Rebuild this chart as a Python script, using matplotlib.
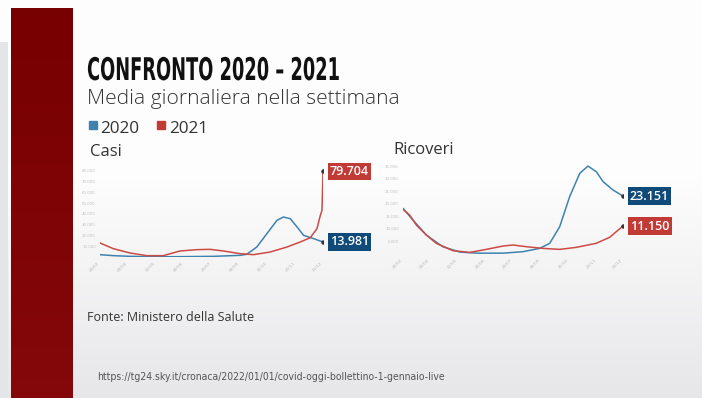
import numpy as np
import matplotlib
matplotlib.use("Agg")
import matplotlib.pyplot as plt
import matplotlib.patheffects as pe
from matplotlib.patches import Rectangle
from matplotlib.transforms import Affine2D

# giorni dall'inizio della finestra (0..310) e valori
casi_2021_x = [0, 18.6, 41.8, 65, 88, 111, 134.6, 153, 171.7, 195, 213.5, 236.7, 260, 278.4, 292.4, 301.6, 306.3, 308.6, 310]
casi_2021 = [13020, 7750, 3720, 1240, 1240, 5580, 6820, 7130, 5580, 3100, 2170, 4650, 9300, 13950, 17980, 26350, 38750, 43400, 79704]

casi_2020_x = [0, 18.6, 41.8, 65, 111, 157.8, 195, 204, 218, 232, 246, 255, 264.5, 274, 283, 297, 310]
casi_2020 = [2170, 1240, 620, 300, 300, 620, 1550, 2480, 9300, 21700, 34100, 37200, 35650, 27900, 20150, 17050, 13981]

ric_2021_x = [0, 9.4, 18.8, 32.9, 47, 70.5, 94, 117.4, 141, 155, 173.8, 197, 220.8, 244, 272, 291, 310]
ric_2021 = [17810, 15540, 11540, 7545, 4210, 1280, 600, 1810, 3150, 3550, 2880, 2210, 1810, 2610, 4210, 6610, 11150]

ric_2020_x = [0, 14, 32.9, 56, 80, 103, 141, 169, 192.6, 206.7, 220.8, 234.8, 249, 260.7, 272.4, 282, 296, 310]
ric_2020 = [18210, 13540, 7545, 2880, 750, 300, 300, 880, 2210, 4210, 10880, 22870, 32200, 35140, 32870, 28870, 25540, 23151]

tick_days = [0, 39, 78, 117, 156, 195, 234, 273, 310]
tick_labels = ["24/02", "03/04", "12/05", "20/06", "29/07", "06/09", "15/10", "23/11", "31/12"]

BLU = "#3f82b0"
ROSSO = "#cc4a44"
BOX_BLU = "#0f4a78"
BOX_ROSSO = "#c23a35"

W, H = 702, 398
fig = plt.figure(figsize=(W / 100, H / 100), dpi=100)


def fx(x):
    return x / W


def fy(y):
    return 1 - y / H


class Stretta(pe.AbstractPathEffect):
    # comprime il testo in orizzontale attorno a x0 (pixel)
    def __init__(self, x0, sx):
        super().__init__()
        self.x0 = x0
        self.sx = sx

    def draw_path(self, renderer, gc, tpath, affine, rgbFace=None):
        t = affine + Affine2D().translate(-self.x0, 0).scale(self.sx, 1).translate(self.x0, 0)
        renderer.draw_path(gc, tpath, t, rgbFace)


# sfondo
bg = fig.add_axes([0, 0, 1, 1], zorder=-10)
grad = np.concatenate([np.ones(170), np.linspace(1, 0, 228)])[:, None]
col_top = np.array([0.995, 0.995, 0.995])
col_bot = np.array([0.905, 0.905, 0.915])
img = col_bot + (col_top - col_bot) * grad[:, :, None]
img = np.repeat(img, 2, axis=1)
bg.imshow(img, aspect="auto", extent=[0, 1, 0, 1])
bg.set_xlim(0, 1)
bg.set_ylim(0, 1)
bg.axis("off")
bg.add_patch(Rectangle((0, 0), fx(8), fy(42), color="#e3e5e9", lw=0))

# banda rossa
band = fig.add_axes([fx(11), 0, fx(61), fy(8)], zorder=-5)
bimg = np.linspace(0, 1, 100)[:, None]
c1 = np.array([0.47, 0.0, 0.0])
c2 = np.array([0.52, 0.03, 0.04])
band.imshow(c1 + (c2 - c1) * bimg[:, :, None] * np.ones((1, 10, 1)), aspect="auto")
band.axis("off")

# titoli
fig.text(fx(87), fy(80), "CONFRONTO 2020 – 2021", family="DejaVu Sans", weight="bold",
         fontsize=22.5, color="#111111", va="baseline", path_effects=[Stretta(87, 0.57)])
fig.text(fx(87), fy(104), "Media giornaliera nella settimana", family="Open Sans", weight="light",
         fontsize=15.1, color="#333333", va="baseline")

# legenda
fig.patches.append(Rectangle((fx(89), fy(129)), fx(8), 8 / H, color=BLU, transform=fig.transFigure))
fig.text(fx(100), fy(133), "2020", family="Open Sans", fontsize=12.3, color="#333333", va="baseline")
fig.patches.append(Rectangle((fx(157), fy(129)), fx(8), 8 / H, color=BOX_ROSSO, transform=fig.transFigure))
fig.text(fx(169), fy(133), "2021", family="Open Sans", fontsize=12.3, color="#333333", va="baseline")


def pannello(left, right, top, bottom, ymax, yticks, serie, etichette, titolo):
    ax = fig.add_axes([fx(left), fy(bottom), fx(right - left), (bottom - top) / H])
    ax.set_facecolor("none")
    for s in ax.spines.values():
        s.set_visible(False)
    for xs, ys, c in serie:
        ax.plot(xs, ys, color=c, lw=1.1, solid_capstyle="round")
        ax.plot(xs[-1], ys[-1], "o", color="#333333", ms=2.2, zorder=5)
    for xs, ys, txt, col in etichette:
        ax.annotate(txt, (xs[-1], ys[-1]), xytext=(5, 0), textcoords="offset points",
                    ha="left", va="center", family="Open Sans", weight="semibold",
                    fontsize=9, color="white", annotation_clip=False,
                    bbox=dict(boxstyle="square,pad=0.18", fc=col, ec="none"))
    ax.set_xlim(0, 310)
    ax.set_ylim(0, ymax)
    ax.set_xticks(tick_days)
    ax.set_xticklabels(tick_labels, rotation=45, ha="right", fontsize=3.2, color="#b8b8b8")
    ax.set_yticks(yticks)
    ax.set_yticklabels([f"{v:,}".replace(",", ".") for v in yticks], fontsize=2.8, color="#c0c0c0")
    ax.tick_params(length=0, pad=3)
    fig.text(fx(left - 10), fy(top - 10), titolo, family="Open Sans", fontsize=12,
             color="#333333", va="baseline")
    return ax


pannello(100, 323, 165.6, 257, 85000, list(range(10000, 80001, 10000)),
         [(casi_2020_x, casi_2020, BLU), (casi_2021_x, casi_2021, ROSSO)],
         [(casi_2021_x, casi_2021, "79.704", BOX_ROSSO), (casi_2020_x, casi_2020, "13.981", BOX_BLU)],
         "Casi")
pannello(403, 623, 163.9, 253.9, 36000, list(range(5000, 35001, 5000)),
         [(ric_2020_x, ric_2020, BLU), (ric_2021_x, ric_2021, ROSSO)],
         [(ric_2020_x, ric_2020, "23.151", BOX_BLU), (ric_2021_x, ric_2021, "11.150", BOX_ROSSO)],
         "Ricoveri")

fig.text(fx(87), fy(321), "Fonte: Ministero della Salute", family="Open Sans",
         fontsize=9, color="#333333", va="baseline")
fig.text(fx(97), fy(380), "https://tg24.sky.it/cronaca/2022/01/01/covid-oggi-bollettino-1-gennaio-live",
         family="DejaVu Sans", fontstretch="condensed", fontsize=7.5, color="#555555", va="baseline")

fig.savefig("out.png", dpi=100)
